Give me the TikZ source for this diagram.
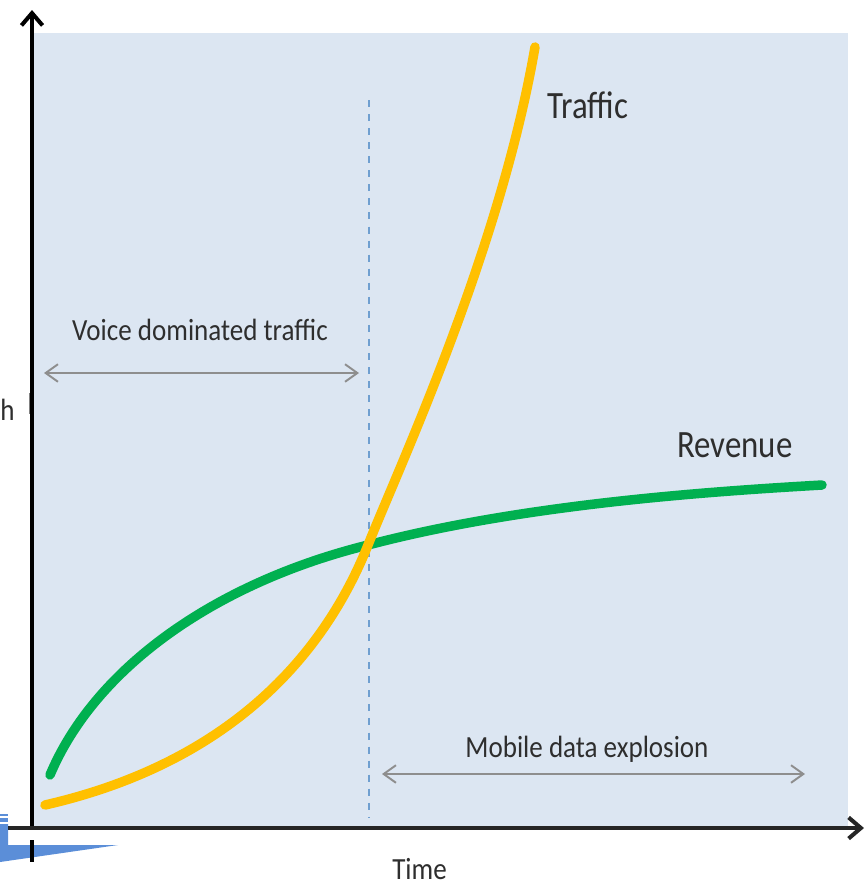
\documentclass[tikz,border=0pt]{standalone}
\usepackage{fontspec}
\setmainfont{Carlito}
\usetikzlibrary{arrows.meta}
\definecolor{panel}{HTML}{DCE6F2}
\definecolor{traffic}{HTML}{FFC000}
\definecolor{revenue}{HTML}{00B050}
\definecolor{spangray}{HTML}{8E8E8E}
\definecolor{txt}{HTML}{2E2E2E}
\definecolor{shapeblue}{HTML}{5B8ED8}
\definecolor{dashblue}{HTML}{6F9FD0}
\begin{document}
\begin{tikzpicture}[x=0.02cm,y=-0.02cm,
  axis/.style={line width=2.3pt,black},
  curve/.style={line width=5.4pt,line cap=round,line join=round},
  span/.style={line width=1.1pt,spangray,{Straight Barb[length=7pt,width=10pt]}-{Straight Barb[length=7pt,width=10pt]}},
  biglabel/.style={font=\fontsize{22}{24}\selectfont,text=txt,inner sep=0pt,xscale=0.85},
  smalllabel/.style={font=\fontsize{17.5}{20}\selectfont,text=txt,inner sep=0pt,xscale=0.88},
]
\useasboundingbox (0,0) rectangle (865,887);
\begin{scope}
\clip (0,0) rectangle (865,887);
% panel
\fill[panel] (34,33) rectangle (848,826);
% dashed divider
\coordinate (dtop) at (369,100);
\coordinate (dbot) at (369,818);
\draw[dashblue,line width=0.9pt,dash pattern=on 4pt off 4pt] (dtop) -- (dbot);
% curves
\coordinate (cross) at (368,545);
\coordinate (rstart) at (50,775);
\coordinate (rend) at (822,485);
\coordinate (tstart) at (45,805);
\coordinate (tend) at (535,47);
\draw[curve,revenue] (rstart) .. controls (95,668) and (215,583) .. (cross)
  .. controls (520,505) and (700,492) .. (rend);
\draw[curve,traffic] (tstart) .. controls (220,765) and (320,665) .. (cross)
  .. controls (400,465) and (500,250) .. (tend);
% span arrows
\coordinate (v1) at (44,373);
\coordinate (v2) at (359,373);
\draw[span] (v1) -- (v2);
\coordinate (m1) at (382,774);
\coordinate (m2) at (805,774);
\draw[span] (m1) -- (m2);
% labels
\node[smalllabel,anchor=base] (voice) at (200,340) {Voice dominated traffic};
\node[smalllabel,anchor=base] (mobile) at (587,757) {Mobile data explosion};
\node[biglabel,anchor=base west] (trafficlbl) at (547,118) {Traffic};
\node[biglabel,anchor=base west] (revenuelbl) at (677,457) {Revenue};
\node[smalllabel,anchor=base west] (timelbl) at (392,879) {Time};
\node[smalllabel,anchor=base east] (growthlbl) at (15,420) {h};
% small grey tick
\coordinate (t1) at (30,393);
\coordinate (t2) at (30,414);
\draw[gray,line width=0.9pt] (t1) -- (t2);
% blue shape at bottom left
\fill[shapeblue] (0,824) -- (8,824) -- (8,845) -- (118,845) -- (0,862) -- cycle;
\fill[shapeblue] (0,814) rectangle (8,816);
\fill[shapeblue] (0,818) rectangle (8,822);
% axes
\coordinate (origin) at (32,828);
\coordinate (ytop) at (32,10);
\coordinate (ybot) at (32,862);
\coordinate (ygap) at (32,840);
\coordinate (xleft) at (8,828);
\coordinate (xright) at (864,828);
\draw[axis,-{Straight Barb[length=7pt,width=12pt]}] (origin) -- (ytop);
\draw[axis] (ygap) -- (ybot);
\draw[axis,color=black!85,-{Straight Barb[length=7pt,width=12pt]}] (xleft) -- (xright);
\end{scope}
\end{tikzpicture}
\end{document}
